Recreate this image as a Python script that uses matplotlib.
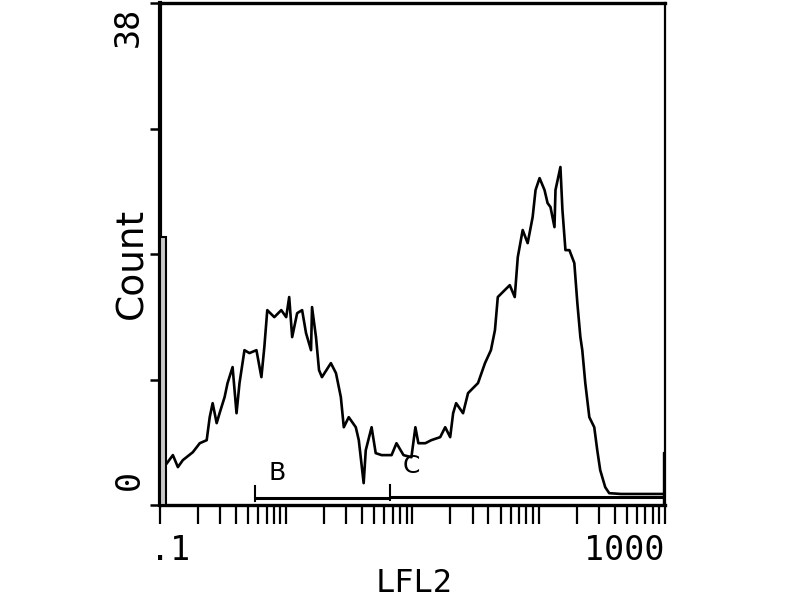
import matplotlib
matplotlib.use('Agg')
import matplotlib.pyplot as plt
import matplotlib.transforms as mtransforms
from matplotlib.ticker import FixedLocator, NullFormatter


# LFL2 values (log axis) and counts
lfl2 = [0.1135, 0.1265, 0.1386, 0.1517, 0.182, 0.2066, 0.2344, 0.2477, 0.2613,
        0.2812, 0.2966, 0.325, 0.343, 0.376, 0.404, 0.4266, 0.467, 0.511,
        0.581, 0.636, 0.671, 0.708, 0.805, 0.914, 1.0, 1.056, 1.115, 1.221,
        1.337, 1.436, 1.573, 1.602, 1.722, 1.82, 1.92, 2.26, 2.48, 2.71,
        2.86, 3.13, 3.56, 3.76, 4.11, 4.27, 4.75, 5.12, 5.7, 6.84, 7.48,
        8.5, 9.82, 10.56, 11.15, 12.66, 14.11, 16.61, 18.19, 19.92, 21.03,
        22.2, 25.2, 27.6, 33.1, 37.6, 41.9, 45.1, 47.5, 54.0, 59.1, 64.7,
        68.4, 74.8, 81.9, 89.7, 94.6, 101.8, 111.4, 117.8, 124.2, 133.6,
        136.1, 148.9, 154.5, 163.2, 175.4, 191.9, 202.8, 214.3, 221.9,
        234.4, 252.3, 276.1, 291.6, 307.8, 337.3, 362.6, 450, 700, 950]
count = [3.18, 3.79, 2.88, 3.41, 4.01, 4.69, 4.92, 6.66, 7.72,
         6.21, 6.96, 8.18, 9.24, 10.45, 6.96, 9.24, 11.73, 11.51,
         11.73, 9.69, 11.96, 14.76, 14.23, 14.76, 14.23, 15.75, 12.72, 14.53,
         14.76, 13.02, 11.73, 14.99, 12.72, 10.22, 9.69, 10.75, 9.99, 8.18,
         5.9, 6.66, 5.9, 4.92, 1.67, 4.16, 5.9, 3.94, 3.79, 3.79, 4.69,
         3.79, 3.63, 5.9, 4.69, 4.69, 4.92, 5.15, 5.9, 5.15, 6.96,
         7.72, 6.96, 8.48, 9.24, 10.75, 11.73, 13.25, 15.75, 16.28, 16.65, 15.75,
         18.77, 20.82, 19.83, 21.8, 23.85, 24.75, 23.85, 22.86, 22.56, 21.04,
         23.85, 25.59, 22.33, 19.3, 19.3, 18.32, 15.29, 12.72, 11.73,
         9.24, 6.66, 5.9, 4.16, 2.65, 1.36, 0.91, 0.85, 0.85, 0.85]

# off-scale channels at both ends of the axis
first_channel = [0.1, 0.111]
first_count = 20.3
last_channel = [975, 1000]
last_count = 4.0

# region markers
marker_names = ['B', 'C']
marker_start = [0.57, 6.7]
marker_end = [6.7, 1000]
marker_level = [0.55, 0.6]
marker_label_x = [0.85, 9.8]
marker_label_y = [2.4, 3.0]

x_labels = ['.1', '1000']
y_labels = ['0', '38']


def draw_histogram(path):
    fig = plt.figure(figsize=(8, 6), dpi=100)
    ax = fig.add_axes([0.2, 0.158, 0.631, 0.837])

    # first channel drawn as a grey bar
    ax.bar(first_channel[0], first_count, width=first_channel[1] - first_channel[0],
           align='edge', facecolor='#c8c8c8', edgecolor='black', linewidth=1.5, zorder=3)
    ax.bar(last_channel[0], last_count, width=last_channel[1] - last_channel[0],
           align='edge', facecolor='black', edgecolor='black', linewidth=1.0, zorder=3)

    ax.plot(lfl2, count, color='black', linewidth=1.9)

    # B and C markers
    for name, x0, x1, lev, lx, ly in zip(marker_names, marker_start, marker_end,
                                        marker_level, marker_label_x, marker_label_y):
        ax.plot([x0, x1], [lev, lev], color='black', linewidth=2.2, solid_capstyle='butt')
        ax.plot([x0, x0], [lev - 0.2, lev + 0.9], color='black', linewidth=1.5)
        ax.text(lx, ly, name, fontsize=18, ha='center', va='center')

    ax.set_xscale('log')
    ax.set_xlim(0.1, 1000)
    ax.set_ylim(0, 38)

    # ticks: every decade and sub-decade, labels only at the ends
    ax.xaxis.set_major_locator(FixedLocator([0.1, 1, 10, 100, 1000]))
    ax.xaxis.set_minor_locator(FixedLocator(
        [m * 10.0 ** e for e in range(-1, 3) for m in range(2, 10)]))
    ax.xaxis.set_major_formatter(NullFormatter())
    ax.xaxis.set_minor_formatter(NullFormatter())
    ax.tick_params(axis='x', which='both', direction='out', length=14, width=1.6)
    ax.set_yticks([0, 9.5, 19, 28.5, 38])
    ax.set_yticklabels([])
    ax.tick_params(axis='y', direction='out', length=7, width=1.8)

    for side, lw in [('left', 3.0), ('top', 2.4), ('bottom', 2.4), ('right', 1.6)]:
        ax.spines[side].set_linewidth(lw)

    # tick labels placed by hand, as on the print
    trans_x = mtransforms.blended_transform_factory(ax.transData, ax.transAxes)
    ax.text(0.12, -0.09, x_labels[0], transform=trans_x, family='DejaVu Sans Mono',
            fontsize=24, ha='center', va='center')
    ax.text(1000, -0.09, x_labels[1], transform=trans_x, family='DejaVu Sans Mono',
            fontsize=24, ha='right', va='center')
    trans_y = mtransforms.blended_transform_factory(ax.transAxes, ax.transData)
    ax.text(-0.06, 1.9, y_labels[0], transform=trans_y, family='DejaVu Sans Mono',
            fontsize=24, rotation=90, ha='center', va='center')
    ax.text(-0.063, 36.2, y_labels[1], transform=trans_y, family='DejaVu Sans Mono',
            fontsize=24, rotation=90, ha='center', va='center')

    ax.text(-0.055, 18.3, 'Count', transform=trans_y, fontsize=27, rotation=90,
            ha='center', va='center')
    fig.text(414 / 800, 1 - 584 / 600, 'LFL2', family='DejaVu Sans Mono', fontsize=23,
             ha='center', va='center')

    fig.savefig(path, dpi=100, facecolor='white')


if __name__ == '__main__':
    draw_histogram('out.png')
